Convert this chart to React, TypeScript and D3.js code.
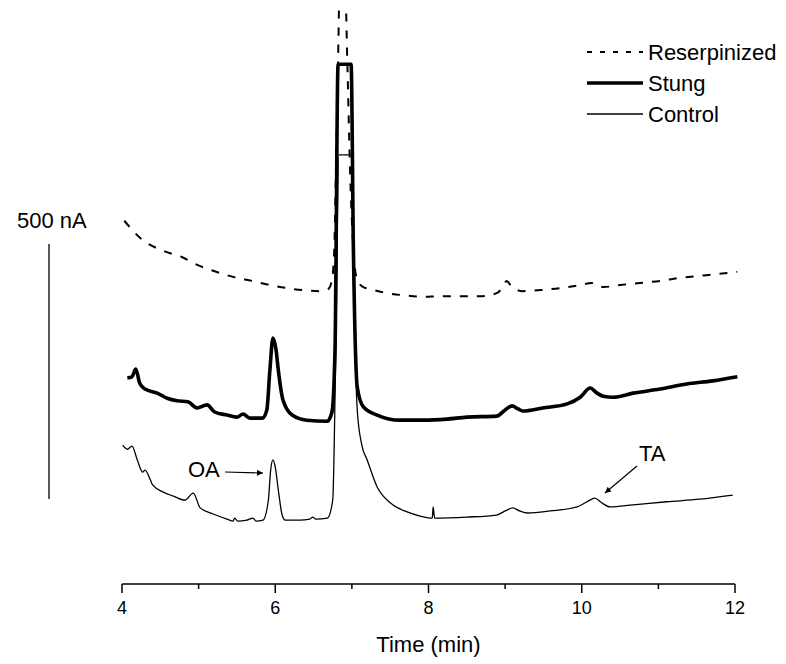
import React from "react";
import * as d3 from "d3";

// ---- Data (time in min, current in nA, traces already vertically offset) ----
const reserpTime = [4.03, 4.27, 4.54, 4.78, 4.99, 5.21, 5.45, 5.70, 5.93, 6.15, 6.36, 6.58, 6.69, 6.74, 6.77, 6.79, 6.82, 6.85, 6.90, 6.94, 6.98, 7.02, 7.07, 7.15, 7.24, 7.46, 7.67, 7.93, 8.15, 8.41, 8.67, 8.89, 8.97, 9.02, 9.09, 9.23, 9.46, 9.72, 9.98, 10.13, 10.28, 10.50, 10.76, 11.02, 11.28, 11.54, 11.80, 12.03];
const reserpCurrent = [724, 686, 665, 653, 637, 625, 614, 606, 598, 592, 588, 586, 590, 608, 667, 804, 1039, 1255, 1255, 1039, 804, 667, 608, 594, 590, 582, 578, 575, 576, 576, 576, 582, 594, 606, 594, 586, 588, 592, 598, 602, 594, 598, 602, 606, 612, 616, 620, 624];

const stungTime = [4.07, 4.13, 4.18, 4.23, 4.30, 4.46, 4.59, 4.72, 4.86, 4.98, 5.11, 5.21, 5.37, 5.50, 5.58, 5.67, 5.83, 5.89, 5.93, 5.97, 6.01, 6.04, 6.10, 6.22, 6.41, 6.68, 6.74, 6.78, 6.82, 6.99, 7.02, 7.07, 7.15, 7.33, 7.63, 7.93, 8.24, 8.50, 8.89, 9.00, 9.09, 9.17, 9.23, 9.49, 9.81, 9.98, 10.11, 10.20, 10.28, 10.41, 10.67, 11.02, 11.37, 11.71, 12.03];
const stungCurrent = [416, 418, 433, 406, 394, 386, 376, 371, 369, 357, 363, 349, 343, 339, 345, 337, 337, 353, 431, 494, 471, 431, 373, 343, 333, 331, 349, 471, 1031, 1031, 667, 398, 359, 343, 333, 333, 335, 339, 341, 353, 361, 355, 351, 357, 365, 378, 396, 386, 380, 378, 386, 394, 404, 410, 418];

const controlTime = [4.01, 4.07, 4.13, 4.20, 4.27, 4.30, 4.37, 4.40, 4.54, 4.67, 4.82, 4.93, 5.02, 5.19, 5.37, 5.45, 5.47, 5.51, 5.63, 5.71, 5.75, 5.84, 5.91, 5.94, 5.97, 6.00, 6.04, 6.09, 6.13, 6.32, 6.45, 6.49, 6.53, 6.68, 6.75, 6.79, 6.83, 7.00, 7.03, 7.07, 7.13, 7.20, 7.33, 7.50, 7.72, 7.89, 8.02, 8.05, 8.06, 8.08, 8.50, 8.89, 9.00, 9.10, 9.19, 9.29, 9.59, 9.94, 10.07, 10.17, 10.26, 10.37, 10.67, 11.11, 11.54, 11.97];
const controlCurrent = [284, 276, 282, 255, 231, 235, 216, 206, 192, 184, 176, 190, 161, 149, 139, 135, 141, 135, 137, 141, 135, 137, 176, 235, 255, 241, 196, 147, 137, 137, 139, 143, 139, 141, 176, 471, 853, 853, 569, 353, 284, 255, 202, 171, 153, 145, 141, 141, 163, 141, 143, 147, 155, 161, 155, 151, 155, 163, 173, 180, 171, 163, 167, 173, 178, 186];

const majorTicks = [4, 6, 8, 10, 12];
const minorTicks = [5, 7, 9, 11];
const seriesNames = ["Reserpinized", "Stung", "Control"];
const scaleBarValue = 500; // nA
const scaleBarLabel = "500 nA";
const xTitle = "Time (min)";
const peakLabels = ["OA", "TA"];

export default function App() {
  const W = 786;
  const H = 664;
  const xScale = d3.scaleLinear().domain([4, 12]).range([122, 735]);
  const yScale = d3.scaleLinear().domain([0, 500]).range([590, 335]);
  const axisY = 584;

  const line = d3
    .line<[number, number]>()
    .x((d) => xScale(d[0]))
    .y((d) => yScale(d[1]))
    .curve(d3.curveMonotoneX);

  const zip = (t: number[], v: number[]) => t.map((x, i) => [x, v[i]] as [number, number]);

  const styles = [
    { width: 2, dash: "8,9" },
    { width: 3.6, dash: undefined },
    { width: 1.3, dash: undefined },
  ];
  const traces = [
    zip(reserpTime, reserpCurrent),
    zip(stungTime, stungCurrent),
    zip(controlTime, controlCurrent),
  ];

  const font = "'Liberation Sans', Arial, sans-serif";
  const legendY = [52, 83, 114];

  return (
    <svg
      width={W}
      height={H}
      style={{ position: "absolute", left: 0, top: 0, background: "#fff" }}
      fontFamily={font}
    >
      <defs>
        <clipPath id="plotClip">
          <rect x={100} y={8} width={660} height={590} />
        </clipPath>
        <marker id="arrow" viewBox="0 0 10 10" refX="10" refY="5" markerWidth="8" markerHeight="6" orient="auto" markerUnits="userSpaceOnUse">
          <path d="M0,0 L10,5 L0,10 z" fill="#000" />
        </marker>
      </defs>
      <rect x={0} y={0} width={W} height={H} fill="#fff" />

      {/* traces */}
      <g clipPath="url(#plotClip)">
        {traces.map((tr, i) => (
          <path
            key={i}
            d={line(tr) || ""}
            fill="none"
            stroke="#000"
            strokeWidth={styles[i].width}
            strokeDasharray={styles[i].dash}
            strokeLinejoin="round"
          />
        ))}
      </g>

      {/* x axis */}
      <line x1={xScale(4)} x2={xScale(12)} y1={axisY} y2={axisY} stroke="#000" strokeWidth={1.5} />
      {majorTicks.map((t) => (
        <g key={"M" + t}>
          <line x1={xScale(t)} x2={xScale(t)} y1={axisY} y2={axisY + 9} stroke="#000" strokeWidth={1.5} />
          <text x={xScale(t)} y={614} textAnchor="middle" fontSize={18}>
            {t}
          </text>
        </g>
      ))}
      {minorTicks.map((t) => (
        <line key={"m" + t} x1={xScale(t)} x2={xScale(t)} y1={axisY} y2={axisY + 5} stroke="#000" strokeWidth={1.5} />
      ))}
      <text x={(xScale(4) + xScale(12)) / 2} y={652} textAnchor="middle" fontSize={22}>
        {xTitle}
      </text>

      {/* scale bar */}
      <line x1={49} x2={49} y1={yScale(0) - 91} y2={yScale(scaleBarValue) - 91} stroke="#000" strokeWidth={1.3} />
      <text x={17} y={228} fontSize={22}>
        {scaleBarLabel}
      </text>

      {/* peak annotations */}
      <text x={188} y={477} fontSize={22}>
        {peakLabels[0]}
      </text>
      <line x1={225} y1={472} x2={263} y2={473} stroke="#000" strokeWidth={1.2} markerEnd="url(#arrow)" />
      <text x={639} y={461} fontSize={22}>
        {peakLabels[1]}
      </text>
      <line x1={637} y1={466} x2={605} y2={493} stroke="#000" strokeWidth={1.2} markerEnd="url(#arrow)" />

      {/* legend */}
      {seriesNames.map((name, i) => (
        <g key={name}>
          <line
            x1={587}
            x2={643}
            y1={legendY[i]}
            y2={legendY[i]}
            stroke="#000"
            strokeWidth={styles[i].width}
            strokeDasharray={i === 0 ? "5,8" : undefined}
          />
          <text x={648} y={legendY[i] + 8} fontSize={22}>
            {name}
          </text>
        </g>
      ))}
    </svg>
  );
}
